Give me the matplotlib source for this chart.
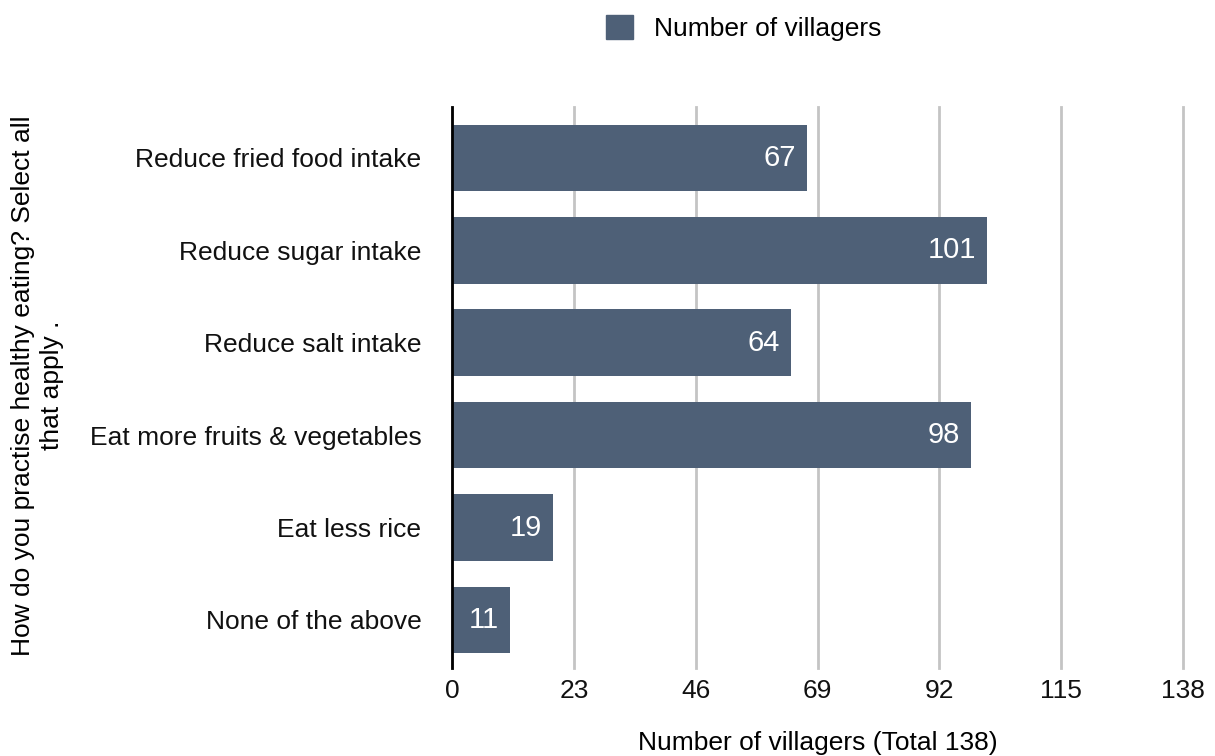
import numpy as np
import matplotlib
matplotlib.use("Agg")
import matplotlib.pyplot as plt
from matplotlib.patches import Patch

plt.rcParams['font.family'] = ['Liberation Sans', 'DejaVu Sans']

# data
categories = ["Reduce fried food intake", "Reduce sugar intake", "Reduce salt intake",
              "Eat more fruits & vegetables", "Eat less rice", "None of the above"]
villagers = [67, 101, 64, 98, 19, 11]
x_ticks = [0, 23, 46, 69, 92, 115, 138]

bar_color = "#4e6077"
fs = 19

fig = plt.figure(figsize=(12.15, 7.56), dpi=100)
ax = fig.add_axes([0.372, 0.1164, 0.6017, 0.7421])

y = np.arange(len(categories))
ax.barh(y, villagers, height=0.72, color=bar_color, zorder=3)

# value labels inside bar ends
for yi, v in zip(y, villagers):
    ax.annotate(str(v), (v, yi), xytext=(-8, 0), textcoords='offset points',
                ha='right', va='center', color='white', fontsize=21, zorder=4)

ax.set_xlim(0, 138)
ax.set_ylim(len(categories) - 0.48, -0.55)
ax.set_xticks(x_ticks)
ax.set_yticks(y)
ax.set_yticklabels(categories)
ax.tick_params(axis='both', length=0, labelsize=fs, colors='#111111')
ax.tick_params(axis='x', pad=8)
ax.tick_params(axis='y', pad=22)

ax.grid(axis='x', color='#c4c4c4', linewidth=2, zorder=0)
for gl in ax.get_xgridlines():
    gl.set_clip_on(False)
for s in ['top', 'right', 'bottom']:
    ax.spines[s].set_visible(False)
ax.spines['left'].set_linewidth(2)
ax.spines['left'].set_color('black')
ax.spines['left'].set_zorder(5)

ax.set_xlabel("Number of villagers (Total 138)", fontsize=fs, labelpad=20)
fig.text(0.031, 0.49, "How do you practise healthy eating? Select all\nthat apply .",
         rotation=90, ha='center', va='center', fontsize=fs, multialignment='center',
         linespacing=1.25)

fig.legend(handles=[Patch(color=bar_color, label="Number of villagers")],
           loc='center', bbox_to_anchor=(0.612, 0.963), frameon=False,
           fontsize=fs, handlelength=1.0, handleheight=1.0, handletextpad=0.8)

fig.savefig("out.png", dpi=100)
